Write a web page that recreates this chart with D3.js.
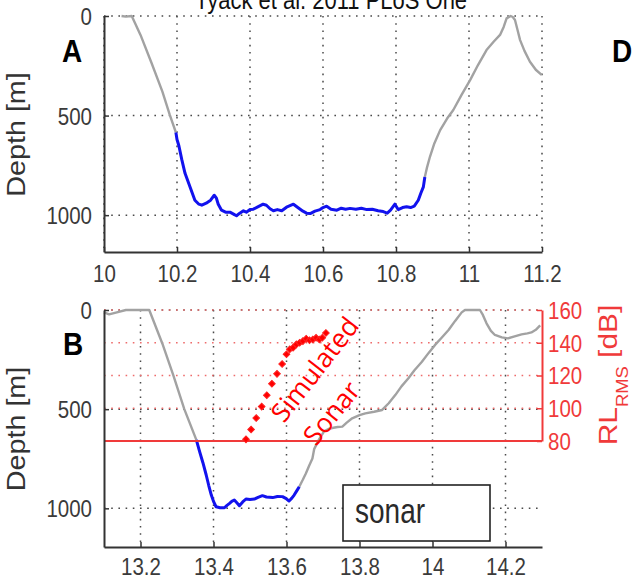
<!DOCTYPE html>
<html><head><meta charset="utf-8">
<script src="https://cdn.jsdelivr.net/npm/d3@7"></script>
<style>html,body{margin:0;padding:0;background:#fff;overflow:hidden}svg{display:block}</style>
</head><body>
<script>
// ---------------- data ----------------
const titleText = "Tyack et al. 2011 PLoS One";
const xTicksA = [10, 10.2, 10.4, 10.6, 10.8, 11, 11.2];
const xTicksB = [13.2, 13.4, 13.6, 13.8, 14, 14.2];
const depthTicks = [0, 500, 1000];
const dbTicks = [80, 100, 120, 140, 160];

// Panel A: dive profile [time (h), depth (m)]
const diveA_pre = [[10.048,0],[10.06,3],[10.076,0],[10.10,95],[10.13,235],[10.16,380],[10.18,495],[10.197,585]];
const diveA_sonar = [[10.197,585],[10.200,620],[10.205,650],[10.213,720],[10.222,790],[10.236,860],[10.249,925],[10.26,945],[10.268,950],[10.28,940],[10.292,925],[10.302,900],[10.308,915],[10.313,945],[10.322,975],[10.333,985],[10.345,985],[10.355,995],[10.363,1003],[10.372,990],[10.382,978],[10.39,985],[10.40,972],[10.409,970],[10.42,960],[10.436,945],[10.445,950],[10.455,968],[10.464,978],[10.475,972],[10.487,978],[10.50,960],[10.519,945],[10.53,960],[10.545,980],[10.555,990],[10.565,992],[10.578,980],[10.592,972],[10.60,962],[10.61,955],[10.622,970],[10.638,975],[10.65,965],[10.662,970],[10.674,966],[10.69,970],[10.705,965],[10.72,972],[10.735,970],[10.751,978],[10.765,982],[10.776,990],[10.785,975],[10.797,945],[10.806,972],[10.818,962],[10.829,958],[10.84,962],[10.85,955],[10.861,925],[10.868,890],[10.875,858],[10.879,808]];
const diveA_post = [[10.879,808],[10.885,760],[10.893,707],[10.905,640],[10.921,573],[10.94,515],[10.957,472],[10.98,395],[11.003,322],[11.025,245],[11.048,171],[11.068,128],[11.085,95],[11.095,55],[11.103,12],[11.114,0],[11.12,5],[11.126,20],[11.133,70],[11.14,121],[11.152,175],[11.167,230],[11.183,270],[11.199,296]];

// Panel B: dive profile
const diveB_pre = [[13.1,12],[13.114,22],[13.135,12],[13.16,0],[13.224,0],[13.26,170],[13.29,330],[13.32,500],[13.353,655]];
const diveB_sonar = [[13.353,655],[13.362,714],[13.371,770],[13.380,832],[13.387,885],[13.394,933],[13.400,965],[13.407,992],[13.418,997],[13.430,997],[13.437,985],[13.444,975],[13.450,965],[13.457,958],[13.464,972],[13.471,987],[13.480,968],[13.489,953],[13.50,955],[13.512,953],[13.522,945],[13.534,936],[13.545,943],[13.562,946],[13.575,940],[13.589,941],[13.598,950],[13.607,963],[13.614,950],[13.621,933],[13.628,912],[13.635,891]];
const diveB_post = [[13.635,891],[13.645,855],[13.653,824],[13.662,785],[13.671,749],[13.676,700],[13.69,650],[13.703,612],[13.715,600],[13.725,595],[13.74,590],[13.753,588],[13.765,568],[13.780,546],[13.80,530],[13.816,521],[13.84,513],[13.862,504],[13.88,470],[13.898,429],[13.915,385],[13.934,344],[13.95,305],[13.971,261],[13.99,215],[14.007,176],[14.025,140],[14.044,101],[14.062,55],[14.080,12],[14.089,0],[14.130,0],[14.138,25],[14.148,67],[14.16,105],[14.171,126],[14.19,138],[14.207,143],[14.225,133],[14.244,123],[14.26,118],[14.271,113],[14.283,100],[14.295,78]];

// Simulated sonar received level [time (h), RL_RMS (dB)]
const simSonarRL = [[13.489,81],[13.503,87],[13.517,94],[13.532,101],[13.546,108],[13.560,115],[13.574,121],[13.588,127],[13.600,133],[13.609,136],[13.618,137],[13.627,139],[13.636,140],[13.645,141],[13.654,142.5],[13.663,141.5],[13.672,142],[13.681,143],[13.690,142],[13.698,143],[13.708,146]];

// ---------------- layout ----------------
const W = 635, H = 580, SY = 1.15;
const svg = d3.select("body").append("svg").attr("width", W).attr("height", H)
  .style("font-family", "'Liberation Sans', Arial, sans-serif");

const xA = d3.scaleLinear().domain([10, 11.2]).range([104, 542]);
const yA = d3.scaleLinear().domain([0, 1185]).range([16, 252]);
const xB = d3.scaleLinear().domain([13.1, 14.3]).range([104, 542]);
const yB = d3.scaleLinear().domain([0, 1195]).range([310, 547]);
const yDb = d3.scaleLinear().domain([80, 160]).range([441, 310]);

const GRID = "#4a4a4a", RGRID = "#ee6c6c", DASH = "1.6,5.6";

function text(x, y, s, o) {
  const t = svg.append("text")
    .attr("transform", `translate(${x},${y}) scale(1,${o.sy ?? SY}) rotate(${o.rot || 0})`)
    .attr("font-size", o.size).attr("text-anchor", o.anchor || "start")
    .attr("fill", o.fill || "#333").attr("font-weight", o.weight || "normal");
  if (o.family) t.attr("font-family", o.family);
  t.text(s);
  return t;
}

function panel(x, y, xTicks) {
  const g = svg.append("g");
  const [x0, x1] = x.range(), [y0, y1] = y.range();
  g.selectAll(".vg").data(xTicks).join("line")
    .attr("x1", d => x(d)).attr("x2", d => x(d)).attr("y1", y0).attr("y2", y1)
    .attr("stroke", GRID).attr("stroke-width", 1.5).attr("stroke-dasharray", DASH);
  g.selectAll(".hg").data(depthTicks).join("line")
    .attr("x1", x0).attr("x2", x1).attr("y1", d => y(d)).attr("y2", d => y(d))
    .attr("stroke", GRID).attr("stroke-width", 1.5).attr("stroke-dasharray", DASH);
  return g;
}

function axes(x, y, xTicks, baseY) {
  const ax = svg.append("g").attr("transform", `translate(0,${y.range()[1]})`)
    .call(d3.axisBottom(x).tickValues(xTicks).tickFormat(d3.format("~g")).tickSize(-5).tickSizeOuter(0).tickPadding(0));
  ax.select(".domain").attr("stroke", "#333").attr("stroke-width", 2);
  ax.selectAll(".tick line").attr("stroke", "#333").attr("stroke-width", 1.5);
  ax.selectAll(".tick text").attr("dy", 0).attr("y", (baseY - y.range()[1]) / SY)
    .attr("transform", `scale(1,${SY})`).attr("font-size", 20.5).attr("fill", "#3a3a3a")
    .attr("font-family", "'Liberation Sans', Arial, sans-serif");
  const ay = svg.append("g").attr("transform", `translate(${x.range()[0]},0)`)
    .call(d3.axisLeft(y).tickValues(depthTicks).tickFormat(d3.format("d")).tickSize(-5).tickSizeOuter(0).tickPadding(12));
  ay.select(".domain").attr("stroke", "#333").attr("stroke-width", 2);
  ay.selectAll(".tick line").attr("stroke", "#333").attr("stroke-width", 1.5);
  ay.selectAll(".tick text").attr("transform", `scale(1,${SY})`).attr("dy", "0.36em")
    .attr("font-size", 20.5).attr("fill", "#3a3a3a").attr("font-family", "'Liberation Sans', Arial, sans-serif");
}

const lineA = d3.line().x(d => xA(d[0])).y(d => yA(d[1]));
const lineB = d3.line().x(d => xB(d[0])).y(d => yB(d[1]));

// ---------- Panel A ----------
panel(xA, yA, xTicksA);
[diveA_pre, diveA_post].forEach(s => svg.append("path").attr("d", lineA(s))
  .attr("fill", "none").attr("stroke", "#a2a2a2").attr("stroke-width", 2.4).attr("stroke-linejoin", "round"));
svg.append("path").attr("d", lineA(diveA_sonar)).attr("fill", "none")
  .attr("stroke", "#1212ee").attr("stroke-width", 3).attr("stroke-linejoin", "round");
axes(xA, yA, xTicksA, 282);

// ---------- Panel B ----------
panel(xB, yB, xTicksB);
svg.selectAll(".rg").data(dbTicks.filter(d => d > 80)).join("line")
  .attr("x1", 104).attr("x2", 542).attr("y1", d => yDb(d)).attr("y2", d => yDb(d))
  .attr("stroke", RGRID).attr("stroke-width", 1.6).attr("stroke-dasharray", DASH);
[diveB_pre, diveB_post].forEach(s => svg.append("path").attr("d", lineB(s))
  .attr("fill", "none").attr("stroke", "#a2a2a2").attr("stroke-width", 2.4).attr("stroke-linejoin", "round"));
svg.append("path").attr("d", lineB(diveB_sonar)).attr("fill", "none")
  .attr("stroke", "#1212ee").attr("stroke-width", 3).attr("stroke-linejoin", "round");

svg.append("line").attr("x1", 104).attr("x2", 542).attr("y1", yDb(80)).attr("y2", yDb(80))
  .attr("stroke", "#f03a3a").attr("stroke-width", 2);
svg.selectAll(".mk").data(simSonarRL).join("path")
  .attr("d", d3.symbol(d3.symbolSquare, 22))
  .attr("transform", d => `translate(${xB(d[0])},${yDb(d[1])}) rotate(45)`)
  .attr("fill", "#ff0000").attr("stroke", "#ff2020").attr("stroke-width", 1);

axes(xB, yB, xTicksB, 575);

const ar = svg.append("g").attr("transform", `translate(542,0)`)
  .call(d3.axisRight(yDb).tickValues(dbTicks).tickFormat(d3.format("d")).tickSize(-5).tickSizeOuter(0).tickPadding(6));
ar.select(".domain").attr("stroke", "#f03a3a").attr("stroke-width", 2);
ar.selectAll(".tick line").attr("stroke", "#f03a3a").attr("stroke-width", 1.5);
ar.selectAll(".tick text").attr("transform", `scale(1,${SY})`).attr("dy", "0.36em")
  .attr("font-size", 20.5).attr("fill", "#f03a3a").attr("font-family", "'Liberation Sans', Arial, sans-serif");

// legend box
svg.append("rect").attr("x", 343).attr("y", 485).attr("width", 147).attr("height", 56)
  .attr("fill", "#fff").attr("stroke", "#222").attr("stroke-width", 1.6);
text(355, 523, "sonar", {size: 28, fill: "#2a2a2a", sy: 1.22});

// ---------- texts ----------
text(195, 9, titleText, {size: 22, fill: "#111"});
text(62, 62, "A", {size: 28, weight: "bold", fill: "#000"});
text(63, 355, "B", {size: 28, weight: "bold", fill: "#000"});
text(612, 62, "D", {size: 28, weight: "bold", fill: "#000"});
text(25, 134.5, "Depth [m]", {size: 25, rot: -90, anchor: "middle"});
text(25, 429, "Depth [m]", {size: 25, rot: -90, anchor: "middle"});

const rl = svg.append("text").attr("transform", `translate(617,375) scale(1,${SY}) rotate(-90)`)
  .attr("font-size", 26).attr("text-anchor", "middle").attr("fill", "#f03a3a");
rl.append("tspan").text("RL");
rl.append("tspan").attr("font-size", 16).attr("dy", 11).text("RMS");
rl.append("tspan").attr("dy", -11).text(" [dB]");

text(284, 424, "Simulated", {size: 26.5, rot: -52, fill: "#ff0000", family: "'Open Sans', sans-serif", sy: 1});
text(316, 447, "Sonar", {size: 26.5, rot: -51, fill: "#ff0000", family: "'Open Sans', sans-serif", sy: 1});
</script>
</body></html>
